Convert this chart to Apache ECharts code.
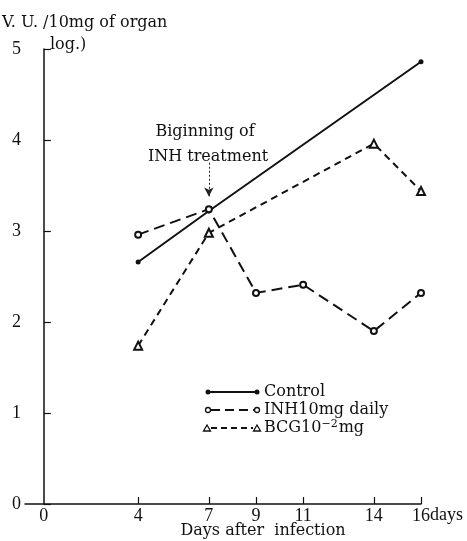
<!DOCTYPE html>
<html>
<head>
<meta charset="utf-8">
<script src="https://cdn.jsdelivr.net/npm/echarts@6/dist/echarts.min.js"></script>
<style>html,body{margin:0;padding:0;background:#fff}#c{width:467px;height:541px}</style>
</head>
<body>
<div id="c"></div>
<script>
const xTickDays = [4, 7, 9, 11, 14, 16];
const xLabelDays = [0, 4, 7, 9, 11, 14, 16];
const yTicks = [0, 1, 2, 3, 4, 5];
const controlDays = [4, 7, 16];
const controlValues = [2.66, 3.22, 4.86];
const inhDays = [4, 7, 9, 11, 14, 16];
const inhValues = [2.96, 3.24, 2.32, 2.41, 1.90, 2.32];
const bcgDays = [4, 7, 14, 16];
const bcgValues = [1.74, 2.98, 3.96, 3.44];
const seriesNames = ['Control', 'INH10mg daily', 'BCG10\u207B\u00B2mg'];

const FONT = '"DejaVu Serif", "Liberation Serif", serif';
const FONT2 = '"Liberation Serif", "DejaVu Serif", serif';
const zip = (a, b) => a.map((v, i) => [v, b[i]]);

const chart = echarts.init(document.getElementById('c'));
chart.setOption({
  animation: false,
  backgroundColor: '#fff',
  grid: { left: 25, right: 46, top: 49, bottom: 37 },
  xAxis: {
    type: 'value', min: -0.8, max: 16,
    splitLine: { show: false },
    axisLine: { lineStyle: { color: '#111', width: 1.5 } },
    axisTick: { inside: true, length: 7, customValues: xTickDays, lineStyle: { color: '#111', width: 1.2 } },
    axisLabel: { customValues: xLabelDays, color: '#111', fontFamily: FONT2, fontSize: 18, margin: 3 }
  },
  yAxis: {
    type: 'value', min: 0, max: 5, interval: 1,
    splitLine: { show: false },
    axisLine: { show: true, lineStyle: { color: '#111', width: 1.5 } },
    axisTick: { show: true, inside: true, length: 7, lineStyle: { color: '#111', width: 1.2 } },
    axisLabel: { color: '#111', fontFamily: FONT2, fontSize: 18, margin: 4,
      customValues: yTicks }
  },
  series: [
    {
      name: seriesNames[0], type: 'line', data: zip(controlDays, controlValues),
      symbol: 'circle', symbolSize: 5, showSymbol: true,
      itemStyle: { color: '#111' },
      lineStyle: { color: '#111', width: 2 }
    },
    {
      name: seriesNames[1], type: 'line', data: zip(inhDays, inhValues),
      symbol: 'emptyCircle', symbolSize: 6,
      itemStyle: { color: '#111', borderWidth: 1.5 },
      lineStyle: { color: '#111', width: 2, type: [11, 6] },
      markLine: {
        silent: true, symbol: ['none', 'arrow'], symbolSize: [7, 9],
        label: { show: false },
        lineStyle: { color: '#222', width: 1, type: [2, 2] },
        data: [[{ coord: [7, 3.75] }, { coord: [7, 3.38] }]]
      }
    },
    {
      name: seriesNames[2], type: 'line', data: zip(bcgDays, bcgValues),
      symbol: 'emptyTriangle', symbolSize: 8,
      itemStyle: { color: '#111', borderWidth: 1.5 },
      lineStyle: { color: '#111', width: 2, type: [7, 5] }
    }
  ],
  graphic: [
    { type: 'text', x: 2, y: 23, style: { text: 'V. U. /10mg of organ', font: '16px ' + FONT, fill: '#111', verticalAlign: 'middle' } },
    { type: 'text', x: 50, y: 45, style: { text: 'log.)', font: '16px ' + FONT, fill: '#111', verticalAlign: 'middle' } },
    { type: 'text', x: 205, y: 132, style: { text: 'Biginning of', font: '16px ' + FONT, fill: '#111', align: 'center', verticalAlign: 'middle' } },
    { type: 'text', x: 208, y: 157, style: { text: 'INH treatment', font: '16px ' + FONT, fill: '#111', align: 'center', verticalAlign: 'middle' } },
    { type: 'text', x: 430, y: 515, style: { text: 'days', font: '18px ' + FONT2, fill: '#111', align: 'left', verticalAlign: 'middle' } },
    { type: 'text', x: 263, y: 531, style: { text: 'Days after  infection', font: '16px ' + FONT, fill: '#111', align: 'center', verticalAlign: 'middle' } },
    // legend
    { type: 'line', shape: { x1: 208, y1: 392, x2: 257, y2: 392 }, style: { stroke: '#111', lineWidth: 2 } },
    { type: 'circle', shape: { cx: 208, cy: 392, r: 2.5 }, style: { fill: '#111' } },
    { type: 'circle', shape: { cx: 257, cy: 392, r: 2.5 }, style: { fill: '#111' } },
    { type: 'text', x: 264, y: 392, style: { text: seriesNames[0], font: '16px ' + FONT, fill: '#111', verticalAlign: 'middle' } },
    { type: 'line', shape: { x1: 211, y1: 410, x2: 254, y2: 410 }, style: { stroke: '#111', lineWidth: 2, lineDash: [9, 5] } },
    { type: 'circle', shape: { cx: 208, cy: 410, r: 2.5 }, style: { fill: '#fff', stroke: '#111', lineWidth: 1.3 } },
    { type: 'circle', shape: { cx: 257, cy: 410, r: 2.5 }, style: { fill: '#fff', stroke: '#111', lineWidth: 1.3 } },
    { type: 'text', x: 264, y: 410, style: { text: seriesNames[1], font: '16px ' + FONT, fill: '#111', verticalAlign: 'middle' } },
    { type: 'line', shape: { x1: 211, y1: 428, x2: 253, y2: 428 }, style: { stroke: '#111', lineWidth: 2, lineDash: [6, 4] } },
    { type: 'polygon', shape: { points: [[207, 425], [203.5, 431], [210.5, 431]] }, style: { fill: '#fff', stroke: '#111', lineWidth: 1.3 } },
    { type: 'polygon', shape: { points: [[257, 425], [253.5, 431], [260.5, 431]] }, style: { fill: '#fff', stroke: '#111', lineWidth: 1.3 } },
    { type: 'text', x: 264, y: 428, style: { rich: { n: { font: '16px ' + FONT, fill: '#111' }, s: { font: '11px ' + FONT, fill: '#111', padding: [0, 1, 7, 0] } }, text: '{n|BCG10}{s|\u22122}{n|mg}', verticalAlign: 'middle' } }
  ]
});
</script>
</body>
</html>
